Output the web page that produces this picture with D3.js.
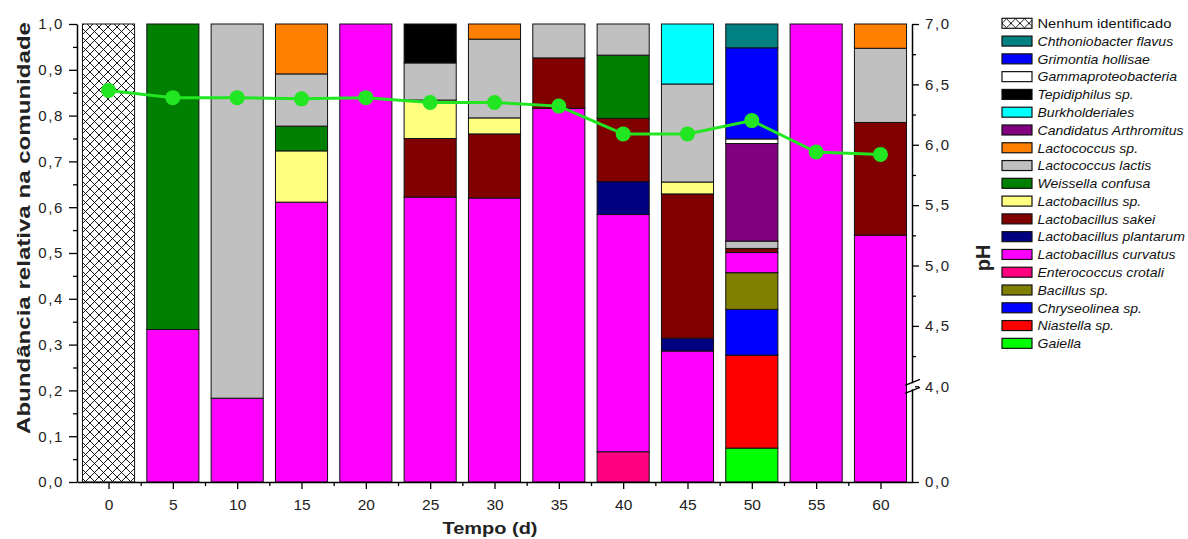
<!DOCTYPE html>
<html>
<head>
<meta charset="utf-8">
<script src="https://cdn.jsdelivr.net/npm/d3@7"></script>
<style>
  body { margin: 0; background: #fff; }
</style>
</head>
<body>
<div id="chart"></div>
<script>
// sampling days
const times = [0, 5, 10, 15, 20, 25, 30, 35, 40, 45, 50, 55, 60];

// legend order, top to bottom (stack order is the reverse)
const species = [
  'Nenhum identificado', 'Chthoniobacter flavus', 'Grimontia hollisae', 'Gammaproteobacteria',
  'Tepidiphilus sp.', 'Burkholderiales', 'Candidatus Arthromitus', 'Lactococcus sp.',
  'Lactococcus lactis', 'Weissella confusa', 'Lactobacillus sp.', 'Lactobacillus sakei',
  'Lactobacillus plantarum', 'Lactobacillus curvatus', 'Enterococcus crotali', 'Bacillus sp.',
  'Chryseolinea sp.', 'Niastella sp.', 'Gaiella'
];
const speciesColors = [
  'url(#hatch)', '#008080', '#0000ff', '#ffffff',
  '#000000', '#00ffff', '#800080', '#ff8000',
  '#c0c0c0', '#008000', '#ffff80', '#800000',
  '#000080', '#ff00ff', '#ff0080', '#808000',
  '#0000ff', '#ff0000', '#00ff00'
];

// relative abundance per species, one value per day in `times`
const abundance = [
  [1, 0, 0, 0, 0, 0, 0, 0, 0, 0, 0, 0, 0],                           // Nenhum identificado
  [0, 0, 0, 0, 0, 0, 0, 0, 0, 0, 0.052, 0, 0],                       // Chthoniobacter
  [0, 0, 0, 0, 0, 0, 0, 0, 0, 0, 0.199, 0, 0],                       // Grimontia
  [0, 0, 0, 0, 0, 0, 0, 0, 0, 0, 0.010, 0, 0],                       // Gammaproteobacteria
  [0, 0, 0, 0, 0, 0.085, 0, 0, 0, 0, 0, 0, 0],                       // Tepidiphilus
  [0, 0, 0, 0, 0, 0, 0, 0, 0, 0.131, 0, 0, 0],                       // Burkholderiales
  [0, 0, 0, 0, 0, 0, 0, 0, 0, 0, 0.213, 0, 0],                       // Candidatus Arthromitus
  [0, 0, 0, 0.109, 0, 0, 0.033, 0, 0, 0, 0, 0, 0.053],               // Lactococcus sp.
  [0, 0, 0.817, 0.114, 0, 0.081, 0.172, 0.074, 0.068, 0.214, 0.016, 0, 0.162], // L. lactis
  [0, 0.667, 0, 0.054, 0, 0, 0, 0, 0.138, 0, 0, 0, 0],               // Weissella
  [0, 0, 0, 0.112, 0, 0.084, 0.035, 0, 0, 0.026, 0, 0, 0],           // Lactobacillus sp.
  [0, 0, 0, 0, 0, 0.128, 0.140, 0.110, 0.138, 0.315, 0.009, 0, 0.246], // L. sakei
  [0, 0, 0, 0, 0, 0, 0, 0, 0.072, 0.028, 0, 0, 0],                   // L. plantarum
  [0, 0.333, 0.183, 0.611, 1, 0.622, 0.620, 0.816, 0.518, 0.286, 0.044, 1, 0.539], // L. curvatus
  [0, 0, 0, 0, 0, 0, 0, 0, 0.066, 0, 0, 0, 0],                       // Enterococcus
  [0, 0, 0, 0, 0, 0, 0, 0, 0, 0, 0.080, 0, 0],                       // Bacillus
  [0, 0, 0, 0, 0, 0, 0, 0, 0, 0, 0.100, 0, 0],                       // Chryseolinea
  [0, 0, 0, 0, 0, 0, 0, 0, 0, 0, 0.203, 0, 0],                       // Niastella
  [0, 0, 0, 0, 0, 0, 0, 0, 0, 0, 0.074, 0, 0]                        // Gaiella
];

const pH = [6.45, 6.39, 6.39, 6.38, 6.39, 6.35, 6.35, 6.32, 6.09, 6.09, 6.20, 5.94, 5.92];

const leftTicks = [0, 0.1, 0.2, 0.3, 0.4, 0.5, 0.6, 0.7, 0.8, 0.9, 1.0];
const rightTicks = [0, 4, 4.5, 5, 5.5, 6, 6.5, 7];
const bottomMinor = [2.5, 7.5, 12.5, 17.5, 22.5, 27.5, 32.5, 37.5, 42.5, 47.5, 52.5, 57.5];

const W = 1188, H = 539;
const m = { left: 77, right: 912, top: 24, bottom: 482 };
const font = '"Liberation Sans", Arial, sans-serif';

const svg = d3.select('#chart').append('svg')
  .attr('width', W)
  .attr('height', H)
  .style('font-family', font);

const x = d3.scaleLinear().domain([-2.45, 62.45]).range([m.left, m.right]);
const y = d3.scaleLinear().domain([0, 1]).range([m.bottom, m.top]);
// broken pH axis: 0..4 squeezed into the bottom part
const brk = m.bottom - 0.209 * (m.bottom - m.top);
const yPH = d3.scaleLinear().domain([0, 4, 7]).range([m.bottom, brk, m.top]);
const comma = d => d3.format('.1f')(d).replace('.', ',');

// crosshatch for "Nenhum identificado"
const defs = svg.append('defs');
defs.append('pattern')
  .attr('id', 'hatch')
  .attr('patternUnits', 'userSpaceOnUse')
  .attr('width', 9).attr('height', 9)
  .call(p => {
    p.append('rect').attr('width', 9).attr('height', 9).attr('fill', '#fff');
    p.append('path').attr('d', 'M0,0 L9,9 M9,0 L0,9 M-1,8 L1,10 M8,-1 L10,1 M8,10 L10,8 M-1,1 L1,-1')
      .attr('stroke', '#000').attr('stroke-width', 0.9);
  });

// stacked bars
const table = times.map((t, i) => {
  const row = { t: t };
  species.forEach((s, k) => { row[s] = abundance[k][i]; });
  return row;
});
const stackKeys = species.slice().reverse();
const stacked = d3.stack().keys(stackKeys)(table);
const colorOf = d3.scaleOrdinal().domain(species).range(speciesColors);
const barW = x(4.05) - x(0);

svg.append('g')
  .attr('class', 'bars')
  .selectAll('g')
  .data(stacked)
  .enter().append('g')
  .attr('fill', d => colorOf(d.key))
  .selectAll('rect')
  .data(d => d.filter(p => p[1] - p[0] > 0))
  .enter().append('rect')
  .attr('x', d => x(d.data.t) - barW / 2)
  .attr('width', barW)
  .attr('y', d => y(d[1]))
  .attr('height', d => y(d[0]) - y(d[1]))
  .attr('stroke', '#111')
  .attr('stroke-width', 1);

// axes
function styleAxis(g, size) {
  g.attr('font-family', font).attr('font-size', size);
  g.selectAll('line').attr('stroke', '#000').attr('stroke-width', 1.3);
  g.selectAll('path.domain').attr('stroke', '#000').attr('stroke-width', 1.5);
  g.selectAll('text').attr('fill', '#222');
}

const gLeft = svg.append('g').attr('transform', `translate(${m.left},0)`)
  .call(d3.axisLeft(y).tickValues(leftTicks).tickSize(8).tickPadding(5).tickFormat(comma).tickSizeOuter(0));
styleAxis(gLeft, 15);
gLeft.selectAll('text').attr('letter-spacing', '1.6px');
const gLeftMinor = svg.append('g').attr('transform', `translate(${m.left},0)`)
  .call(d3.axisLeft(y).tickValues(leftTicks.slice(0, 10).map(v => v + 0.05)).tickSize(4).tickFormat(''));
gLeftMinor.select('.domain').remove();
styleAxis(gLeftMinor, 15);

const gBottom = svg.append('g').attr('transform', `translate(0,${m.bottom})`)
  .call(d3.axisBottom(x).tickValues(times).tickSize(7).tickPadding(10).tickFormat(d3.format('d')).tickSizeOuter(0));
styleAxis(gBottom, 15.5);
const gBottomMinor = svg.append('g').attr('transform', `translate(0,${m.bottom})`)
  .call(d3.axisBottom(x).tickValues(bottomMinor).tickSize(4).tickFormat(''));
gBottomMinor.select('.domain').remove();
styleAxis(gBottomMinor, 15);

const gRight = svg.append('g').attr('transform', `translate(${m.right},0)`)
  .call(d3.axisRight(yPH).tickValues(rightTicks).tickSize(7).tickPadding(6).tickFormat(comma).tickSizeOuter(0));
styleAxis(gRight, 15);
gRight.selectAll('text').attr('letter-spacing', '1.6px');
const gRightMinor = svg.append('g').attr('transform', `translate(${m.right},0)`)
  .call(d3.axisRight(yPH).tickValues([4.25, 4.75, 5.25, 5.75, 6.25, 6.75]).tickSize(4).tickFormat(''));
gRightMinor.select('.domain').remove();
styleAxis(gRightMinor, 15);

// axis break marks at pH 4
const yb = yPH(4);
svg.append('rect')
  .attr('x', m.right - 3).attr('y', yb - 3).attr('width', 6).attr('height', 6)
  .attr('fill', '#fff');
svg.append('g').attr('class', 'break')
  .selectAll('line')
  .data([-4, 4])
  .enter().append('line')
  .attr('x1', m.right - 7).attr('x2', m.right + 8)
  .attr('y1', d => yb + d + 3).attr('y2', d => yb + d - 3)
  .attr('stroke', '#000').attr('stroke-width', 1.3);

// pH line
const phColor = '#22e622';
svg.append('path')
  .datum(times.map((t, i) => [t, pH[i]]))
  .attr('fill', 'none')
  .attr('stroke', phColor)
  .attr('stroke-width', 3)
  .attr('d', d3.line().x(d => x(d[0])).y(d => yPH(d[1])));
svg.append('g')
  .selectAll('circle')
  .data(times.map((t, i) => [t, pH[i]]))
  .enter().append('circle')
  .attr('cx', d => x(d[0]))
  .attr('cy', d => yPH(d[1]))
  .attr('r', 7.5)
  .attr('fill', phColor);

// axis titles
svg.append('text')
  .attr('transform', `translate(30,228) rotate(-90)`)
  .attr('text-anchor', 'middle')
  .attr('font-weight', 'bold')
  .attr('font-size', 19)
  .attr('textLength', 412)
  .attr('lengthAdjust', 'spacingAndGlyphs')
  .attr('fill', '#222')
  .text('Abundância relativa na comunidade');

svg.append('text')
  .attr('transform', `translate(990,258) rotate(-90)`)
  .attr('text-anchor', 'middle')
  .attr('font-weight', 'bold')
  .attr('font-size', 20)
  .attr('fill', '#222')
  .text('pH');

svg.append('text')
  .attr('x', 490).attr('y', 534)
  .attr('text-anchor', 'middle')
  .attr('font-weight', 'bold')
  .attr('font-size', 16)
  .attr('textLength', 95)
  .attr('lengthAdjust', 'spacingAndGlyphs')
  .attr('fill', '#222')
  .text('Tempo (d)');

// legend
const legRow = 17.78, legTop = 23.3, legX = 1002;
const leg = svg.append('g').attr('class', 'legend')
  .selectAll('g')
  .data(species)
  .enter().append('g')
  .attr('transform', (d, i) => `translate(${legX},${legTop + i * legRow})`);
leg.append('rect')
  .attr('x', 0).attr('y', -5)
  .attr('width', 30).attr('height', 10)
  .attr('fill', d => colorOf(d))
  .attr('stroke', '#111')
  .attr('stroke-width', 1.2);
leg.append('text')
  .attr('transform', (d, i) => `translate(35.5,4.8) scale(${i === 0 ? 1.13 : 1.08},1)`)
  .attr('font-size', 13)
  .attr('font-style', (d, i) => i === 0 ? 'normal' : 'italic')
  .attr('fill', '#111')
  .text(d => d);
</script>
</body>
</html>
